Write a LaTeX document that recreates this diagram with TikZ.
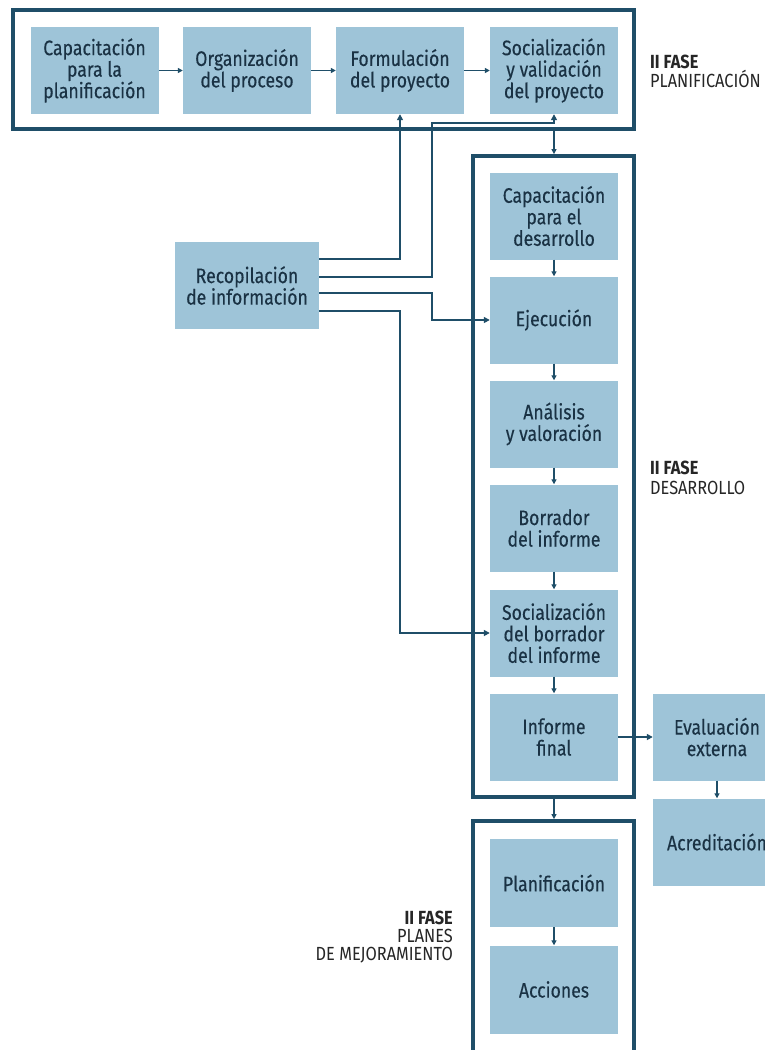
\documentclass[tikz,border=0pt]{standalone}
\usepackage{fontspec}
\setmainfont{Fira Sans}[FakeStretch=0.86]
\newfontfamily\boxfont{Fira Sans}[FakeStretch=0.84,FakeBold=0.3]
\usetikzlibrary{arrows.meta}
\definecolor{boxblue}{HTML}{9EC4D8}
\definecolor{framecol}{HTML}{1F4E68}
\definecolor{txtcol}{HTML}{1A3244}
\definecolor{labcol}{HTML}{262626}
\begin{document}
\begin{tikzpicture}[x=1pt,y=-1pt,
  stepbox/.style={rectangle, fill=boxblue, minimum width=128pt, minimum height=87pt,
    inner sep=0pt, align=center, text=txtcol, font=\boxfont\fontsize{21}{21.5}\selectfont},
  framebox/.style={rectangle, draw=framecol, line width=3.8pt, inner sep=0pt},
  link/.style={draw=framecol, line width=2.8pt, -{Triangle[length=6pt,width=6pt]}},
  small/.style={draw=framecol, line width=1.7pt, -{Triangle[length=5pt,width=5pt]}},
  lab/.style={text=labcol, inner sep=0pt, font=\fontsize{19}{19}\selectfont},
  labb/.style={lab, font=\fontsize{19}{19}\selectfont\bfseries},
]
\useasboundingbox (0,0) rectangle (765,1050);
\clip (0,0) rectangle (765,1050);
\fill[white] (0,0) rectangle (765,1050);

% frames
\node[framebox, minimum width=621pt, minimum height=119pt] (f1) at (323.5,69.5) {};
\node[framebox, minimum width=161pt, minimum height=641pt] (f2) at (553.5,476.5) {};
\node[framebox, minimum width=161pt, minimum height=260pt] (f3) at (553.5,951) {};

% top row
\node[stepbox] (a1) at (94.5,70.5) {Capacitación\\para la\\planificación};
\node[stepbox] (a2) at (247,70.5) {Organización\\del proceso};
\node[stepbox] (a3) at (400,70.5) {Formulación\\del proyecto};
\node[stepbox] (a4) at (554,70.5) {Socialización\\y validación\\del proyecto};

% middle column
\node[stepbox] (b1) at (554,216) {Capacitación\\para el\\desarrollo};
\node[stepbox] (b2) at (554,320) {Ejecución};
\node[stepbox] (b3) at (554,424) {Análisis\\y valoración};
\node[stepbox] (b4) at (554,528) {Borrador\\del informe};
\node[stepbox] (b5) at (554,633) {Socialización\\del borrador\\del informe};
\node[stepbox] (b6) at (554,737) {Informe\\final};

% left box
\node[stepbox, minimum width=144pt] (rec) at (247,285.5) {Recopilación\\de información};

% right boxes
\node[stepbox] (ev) at (717,737) {Evaluación\\externa};
\node[stepbox] (ac) at (717,842) {Acreditación};

% bottom column
\node[stepbox, minimum height=88pt] (p1) at (554,883) {Planificación};
\node[stepbox, minimum height=88pt] (p2) at (554,989.5) {Acciones};

% labels
\node[labb, anchor=base west] (l1a) at (650,68.5) {II FASE};
\node[lab, anchor=base west] (l1b) at (650,87) {PLANIFICACIÓN};
\node[labb, anchor=base west] (l2a) at (650,474) {II FASE};
\node[lab, anchor=base west] (l2b) at (650,494) {DESARROLLO};
\node[labb, anchor=base east] (l3a) at (453,924) {II FASE};
\node[lab, anchor=base east] (l3b) at (453,942) {PLANES};
\node[lab, anchor=base east] (l3c) at (453,960) {DE MEJORAMIENTO};

% top row arrows
\draw[small] (a1.east) -- (a2.west);
\draw[small] (a2.east) -- (a3.west);
\draw[small] (a3.east) -- (a4.west);

% middle column arrows
\draw[small] (b1.south) -- (b2.north);
\draw[small] (b2.south) -- (b3.north);
\draw[small] (b3.south) -- (b4.north);
\draw[small] (b4.south) -- (b5.north);
\draw[small] (b5.south) -- (b6.north);
\draw[small] (ev.south) -- (ac.north);
\draw[small] (p1.south) -- (p2.north);

% between frames
\draw[small] (a4 |- f1.south) -- (a4 |- f2.north);
\draw[small] (b6 |- f2.south) -- (b6 |- f3.north);

% to external evaluation
\draw[link] (b6.east) -- (ev.west);

% from Recopilacion
\path (rec.east) ++(0,-26.5) coordinate (r1);
\path (rec.east) ++(0,-8.5) coordinate (r2);
\path (rec.east) ++(0,7.5) coordinate (r3);
\path (rec.east) ++(0,25.5) coordinate (r4);
\draw[link] (r1) -| (a3.south);
\draw[link] (r2) -| (432,123) -| (a4.south);
\draw[link] (r3) -| (432,320) |- (b2.west);
\draw[link] (r4) -| (400,633) |- (b5.west);
\end{tikzpicture}
\end{document}
